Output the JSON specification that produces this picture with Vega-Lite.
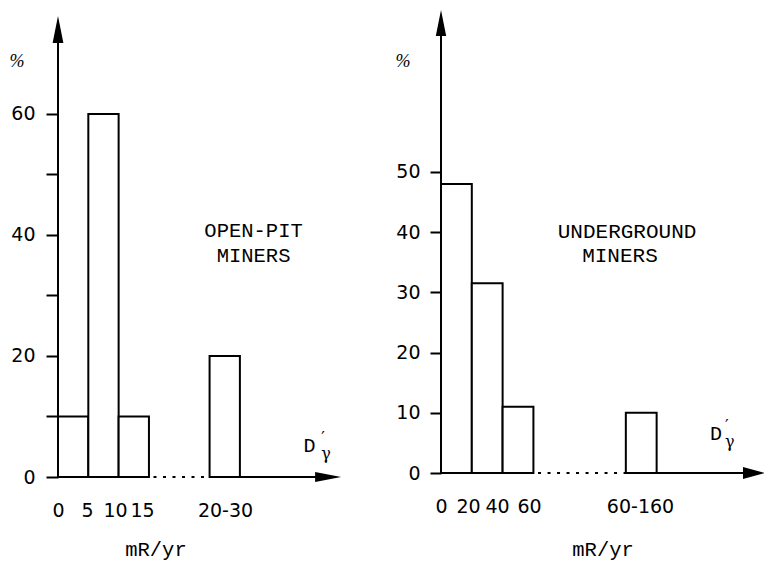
{
  "$schema": "https://vega.github.io/schema/vega-lite/v6.json",
  "background": "white",
  "padding": {"left": 9, "top": 10, "right": 0, "bottom": 0},
  "spacing": 49,
  "config": {
    "view": {"stroke": null},
    "axis": {"labelFont": "DejaVu Sans", "labelFontSize": 19, "labelColor": "black", "grid": false, "title": null, "labelOverlap": false, "labelBound": false, "labelFlush": false, "tickColor": "black", "tickWidth": 2}
  },
  "datasets": {
    "openpit": [
      {"lo": 0, "hi": 1, "pct": 10},
      {"lo": 1, "hi": 2, "pct": 60},
      {"lo": 2, "hi": 3, "pct": 10},
      {"lo": 5, "hi": 6, "pct": 20}
    ],
    "underground": [
      {"lo": 0, "hi": 1, "pct": 48},
      {"lo": 1, "hi": 2, "pct": 31.5},
      {"lo": 2, "hi": 3, "pct": 11},
      {"lo": 6, "hi": 7, "pct": 10}
    ],
    "one": [{}]
  },
  "hconcat": [
    {
      "width": 288,
      "height": 467,
      "data": {"name": "one"},
      "layer": [
        {
          "data": {"name": "openpit"},
          "mark": {"type": "bar", "fill": "white", "stroke": "black", "strokeWidth": 2},
          "encoding": {
            "x": {"field": "lo", "type": "quantitative", "scale": {"domain": [0, 9.5], "nice": false, "zero": false},
              "axis": {"values": [0, 0.96, 1.88, 2.77, 5.51], "labelExpr": "datum.value == 0 ? '0' : datum.value < 1 ? '5' : datum.value < 2 ? '10' : datum.value < 3 ? '15' : '20-30'", "ticks": false, "domain": false, "labelPadding": 24}},
            "x2": {"field": "hi"},
            "y": {"field": "pct", "type": "quantitative", "scale": {"domain": [0, 77.19], "nice": false},
              "axis": {"values": [0, 10, 20, 30, 40, 50, 60], "labelExpr": "datum.value % 20 == 0 ? datum.label : ''", "tickSize": 12, "labelPadding": 11, "domain": false}},
            "y2": {"datum": 0}
          }
        },
        {
          "mark": {"type": "rule", "stroke": "black", "strokeWidth": 2},
          "encoding": {"x": {"datum": 0, "type": "quantitative"}, "y": {"datum": 0, "type": "quantitative"}, "y2": {"datum": 72}}
        },
        {
          "mark": {"type": "rule", "stroke": "black", "strokeWidth": 2},
          "encoding": {"x": {"datum": 0, "type": "quantitative"}, "x2": {"datum": 3}, "y": {"datum": 0, "type": "quantitative"}}
        },
        {
          "mark": {"type": "rule", "stroke": "black", "strokeWidth": 2, "strokeDash": [3, 6.5]},
          "encoding": {"x": {"datum": 3.15, "type": "quantitative"}, "x2": {"datum": 5}, "y": {"datum": 0, "type": "quantitative"}}
        },
        {
          "mark": {"type": "rule", "stroke": "black", "strokeWidth": 2},
          "encoding": {"x": {"datum": 5, "type": "quantitative"}, "x2": {"datum": 8.9}, "y": {"datum": 0, "type": "quantitative"}}
        },
        {
          "mark": {"type": "point", "shape": "M1,0L-1,0.38L-1,-0.38Z", "size": 676, "filled": true, "fill": "black", "opacity": 1, "strokeWidth": 0},
          "encoding": {"x": {"datum": 8.91, "type": "quantitative"}, "y": {"datum": 0, "type": "quantitative"}}
        },
        {
          "mark": {"type": "point", "shape": "M0,-1L0.4,1L-0.4,1Z", "size": 729, "filled": true, "fill": "black", "opacity": 1, "strokeWidth": 0},
          "encoding": {"x": {"datum": 0, "type": "quantitative"}, "y": {"datum": 73.97, "type": "quantitative"}}
        },
        {
          "mark": {"type": "text", "text": "OPEN-PIT", "font": "Liberation Mono", "fontSize": 20.5, "align": "center", "baseline": "alphabetic", "color": "black"},
          "encoding": {"x": {"datum": 6.45, "type": "quantitative"}, "y": {"datum": 39.67, "type": "quantitative"}}
        },
        {
          "mark": {"type": "text", "text": "MINERS", "font": "Liberation Mono", "fontSize": 20.5, "align": "center", "baseline": "alphabetic", "color": "black"},
          "encoding": {"x": {"datum": 6.45, "type": "quantitative"}, "y": {"datum": 35.54, "type": "quantitative"}}
        },
        {
          "mark": {"type": "text", "text": "D", "font": "Liberation Mono", "fontSize": 20, "align": "left", "baseline": "alphabetic", "color": "black"},
          "encoding": {"x": {"datum": 8.1, "type": "quantitative"}, "y": {"datum": 4.13, "type": "quantitative"}}
        },
        {
          "mark": {"type": "text", "text": ["′", "γ"], "font": "DejaVu Serif", "fontSize": 16, "lineHeight": 16, "align": "left", "baseline": "top", "color": "black"},
          "encoding": {"x": {"datum": 8.68, "type": "quantitative"}, "y": {"datum": 7.77, "type": "quantitative"}}
        },
        {
          "mark": {"type": "text", "text": "%", "font": "Liberation Serif", "fontStyle": "italic", "fontSize": 18, "align": "center", "baseline": "middle", "color": "black"},
          "encoding": {"x": {"datum": -1.35, "type": "quantitative"}, "y": {"datum": 68.6, "type": "quantitative"}}
        },
        {
          "mark": {"type": "text", "text": "mR/yr", "font": "Liberation Mono", "fontSize": 20.5, "align": "center", "baseline": "alphabetic", "color": "black"},
          "encoding": {"x": {"datum": 3.23, "type": "quantitative"}, "y": {"datum": -13.06, "type": "quantitative"}}
        }
      ]
    },
    {
      "width": 325,
      "height": 463,
      "data": {"name": "one"},
      "layer": [
        {
          "data": {"name": "underground"},
          "mark": {"type": "bar", "fill": "white", "stroke": "black", "strokeWidth": 2},
          "encoding": {
            "x": {"field": "lo", "type": "quantitative", "scale": {"domain": [0, 10.55], "nice": false, "zero": false},
              "axis": {"values": [0, 0.88, 1.82, 2.86, 6.46], "labelExpr": "datum.value == 0 ? '0' : datum.value < 1 ? '20' : datum.value < 2 ? '40' : datum.value < 3 ? '60' : '60-160'", "ticks": false, "domain": false, "labelPadding": 24}},
            "x2": {"field": "hi"},
            "y": {"field": "pct", "type": "quantitative", "scale": {"domain": [0, 76.91], "nice": false},
              "axis": {"values": [0, 10, 20, 30, 40, 50], "tickSize": 11, "labelPadding": 10, "domain": false}},
            "y2": {"datum": 0}
          }
        },
        {
          "mark": {"type": "rule", "stroke": "black", "strokeWidth": 2},
          "encoding": {"x": {"datum": 0, "type": "quantitative"}, "y": {"datum": 0, "type": "quantitative"}, "y2": {"datum": 73}}
        },
        {
          "mark": {"type": "rule", "stroke": "black", "strokeWidth": 2},
          "encoding": {"x": {"datum": 0, "type": "quantitative"}, "x2": {"datum": 3}, "y": {"datum": 0, "type": "quantitative"}}
        },
        {
          "mark": {"type": "rule", "stroke": "black", "strokeWidth": 2, "strokeDash": [3, 6.5]},
          "encoding": {"x": {"datum": 3.15, "type": "quantitative"}, "x2": {"datum": 6}, "y": {"datum": 0, "type": "quantitative"}}
        },
        {
          "mark": {"type": "rule", "stroke": "black", "strokeWidth": 2},
          "encoding": {"x": {"datum": 6, "type": "quantitative"}, "x2": {"datum": 10.1}, "y": {"datum": 0, "type": "quantitative"}}
        },
        {
          "mark": {"type": "point", "shape": "M1,0L-1,0.55L-1,-0.55Z", "size": 484, "filled": true, "fill": "black", "opacity": 1, "strokeWidth": 0},
          "encoding": {"x": {"datum": 10.16, "type": "quantitative"}, "y": {"datum": 0, "type": "quantitative"}}
        },
        {
          "mark": {"type": "point", "shape": "M0,-1L0.4,1L-0.4,1Z", "size": 676, "filled": true, "fill": "black", "opacity": 1, "strokeWidth": 0},
          "encoding": {"x": {"datum": 0, "type": "quantitative"}, "y": {"datum": 74.75, "type": "quantitative"}}
        },
        {
          "mark": {"type": "text", "text": "UNDERGROUND", "font": "Liberation Mono", "fontSize": 21, "align": "center", "baseline": "alphabetic", "color": "black"},
          "encoding": {"x": {"datum": 6.04, "type": "quantitative"}, "y": {"datum": 39.04, "type": "quantitative"}}
        },
        {
          "mark": {"type": "text", "text": "MINERS", "font": "Liberation Mono", "fontSize": 21, "align": "center", "baseline": "alphabetic", "color": "black"},
          "encoding": {"x": {"datum": 5.81, "type": "quantitative"}, "y": {"datum": 35.05, "type": "quantitative"}}
        },
        {
          "mark": {"type": "text", "text": "D", "font": "Liberation Mono", "fontSize": 20, "align": "left", "baseline": "alphabetic", "color": "black"},
          "encoding": {"x": {"datum": 8.73, "type": "quantitative"}, "y": {"datum": 5.48, "type": "quantitative"}}
        },
        {
          "mark": {"type": "text", "text": ["′", "γ"], "font": "DejaVu Serif", "fontSize": 16, "lineHeight": 16, "align": "left", "baseline": "top", "color": "black"},
          "encoding": {"x": {"datum": 9.22, "type": "quantitative"}, "y": {"datum": 9.14, "type": "quantitative"}}
        },
        {
          "mark": {"type": "text", "text": "%", "font": "Liberation Serif", "fontStyle": "italic", "fontSize": 18, "align": "center", "baseline": "middle", "color": "black"},
          "encoding": {"x": {"datum": -1.23, "type": "quantitative"}, "y": {"datum": 68.27, "type": "quantitative"}}
        },
        {
          "mark": {"type": "text", "text": "mR/yr", "font": "Liberation Mono", "fontSize": 20.5, "align": "center", "baseline": "alphabetic", "color": "black"},
          "encoding": {"x": {"datum": 5.26, "type": "quantitative"}, "y": {"datum": -13.79, "type": "quantitative"}}
        }
      ]
    }
  ]
}
